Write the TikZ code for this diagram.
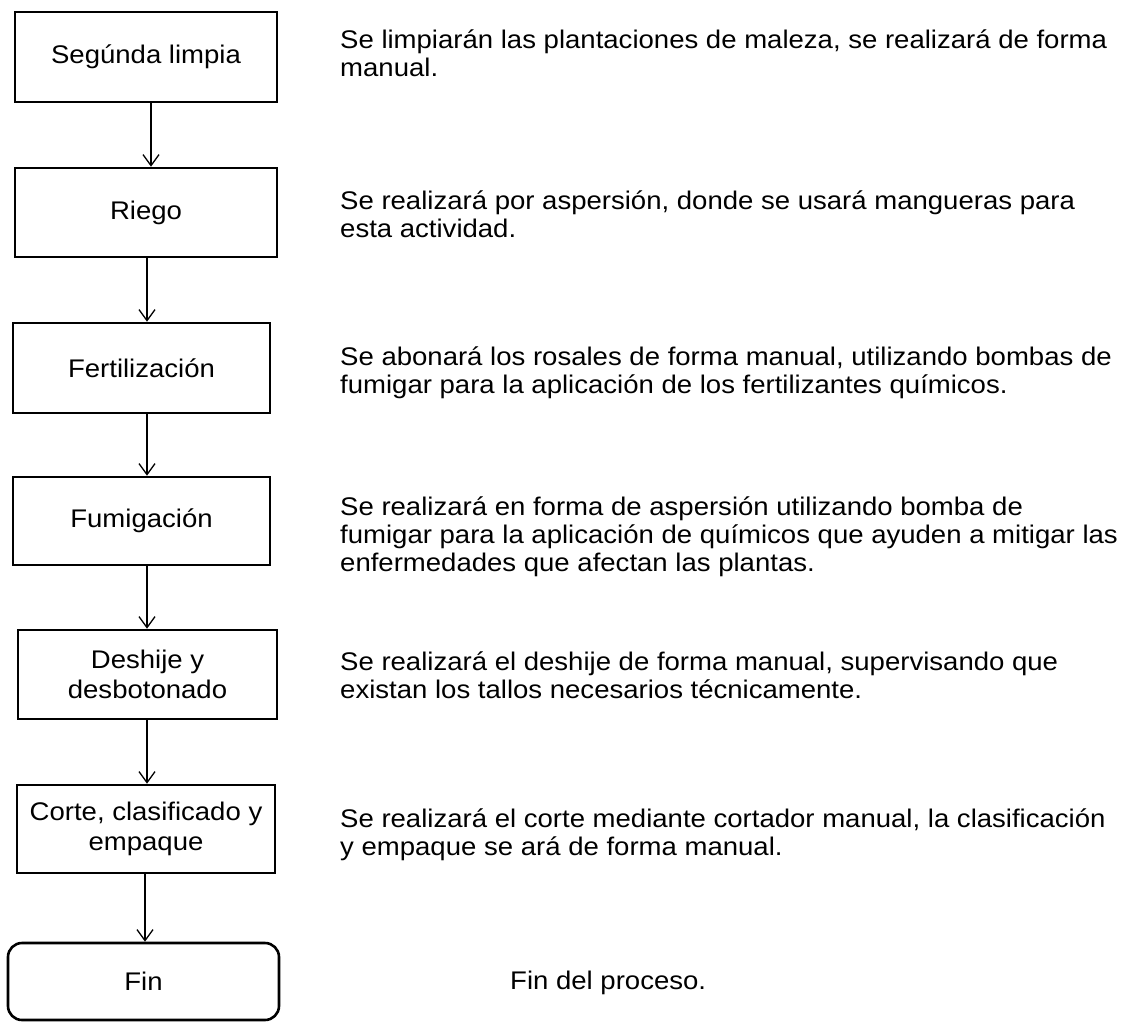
\documentclass[tikz,border=0pt]{standalone}
\usepackage{fontspec}
\setmainfont{Liberation Sans}[FakeStretch=1.08]
\usetikzlibrary{arrows.meta,positioning}
\tikzset{
  stepbox/.style={draw, line width=2.6pt, inner sep=0pt, align=center,
    font=\fontsize{25.5}{30}\selectfont},
  finbox/.style={stepbox, rounded corners=14pt},
  arr/.style={line width=1.3pt, -{Straight Barb[length=11pt,width=16pt,line width=1.3pt]}},
  desc/.style={anchor=base west, inner sep=0pt, align=left,
    font=\fontsize{25.5}{28}\selectfont}
}
\begin{document}
\begin{tikzpicture}[x=1pt,y=-1pt]
\useasboundingbox (0,0) rectangle (1121,1027);
% boxes
\node[stepbox, minimum width=262pt, minimum height=90pt] (b1) at (146,57) {Segúnda limpia};
\node[stepbox, minimum width=262pt, minimum height=89pt] (b2) at (146,212.5) {Riego};
\node[stepbox, minimum width=257pt, minimum height=90pt] (b3) at (141.5,368) {Fertilización};
\node[stepbox, minimum width=257pt, minimum height=88pt] (b4) at (141.5,521) {Fumigación};
\node[stepbox, minimum width=259pt, minimum height=89pt] (b5) at (147.5,674.5) {Deshije y\\desbotonado};
\node[stepbox, minimum width=258pt, minimum height=88pt] (b6) at (146,829) {Corte, clasificado y\\empaque};
\node[finbox, minimum width=271pt, minimum height=77pt] (b7) at (143.5,981.5) {Fin};
% arrow columns
\coordinate (c1) at (151,0);
\coordinate (c2) at (147,0);
\coordinate (c3) at (147,0);
\coordinate (c4) at (147,0);
\coordinate (c5) at (147,0);
\coordinate (c6) at (145,0);
\draw[arr] (b1.south -| c1) -- (b2.north -| c1);
\draw[arr] (b2.south -| c2) -- (b3.north -| c2);
\draw[arr] (b3.south -| c3) -- (b4.north -| c3);
\draw[arr] (b4.south -| c4) -- (b5.north -| c4);
\draw[arr] (b5.south -| c5) -- (b6.north -| c5);
\draw[arr] (b6.south -| c6) -- (b7.north -| c6);
% descriptions (anchor = baseline of last line)
\node[desc] (t1) at (340,77) {Se limpiarán las plantaciones de maleza, se realizará de forma\\manual.};
\node[desc] (t2) at (340,237) {Se realizará por aspersión, donde se usará mangueras para\\esta actividad.};
\node[desc] (t3) at (340,393) {Se abonará los rosales de forma manual, utilizando bombas de\\fumigar para la aplicación de los fertilizantes químicos.};
\node[desc] (t4) at (340,571) {Se realizará en forma de aspersión utilizando bomba de\\fumigar para la aplicación de químicos que ayuden a mitigar las\\enfermedades que afectan las plantas.};
\node[desc] (t5) at (340,698) {Se realizará el deshije de forma manual, supervisando que\\existan los tallos necesarios técnicamente.};
\node[desc] (t6) at (340,855) {Se realizará el corte mediante cortador manual, la clasificación\\y empaque se ará de forma manual.};
\node[desc] (t7) at (510,989) {Fin del proceso.};
\end{tikzpicture}
\end{document}
